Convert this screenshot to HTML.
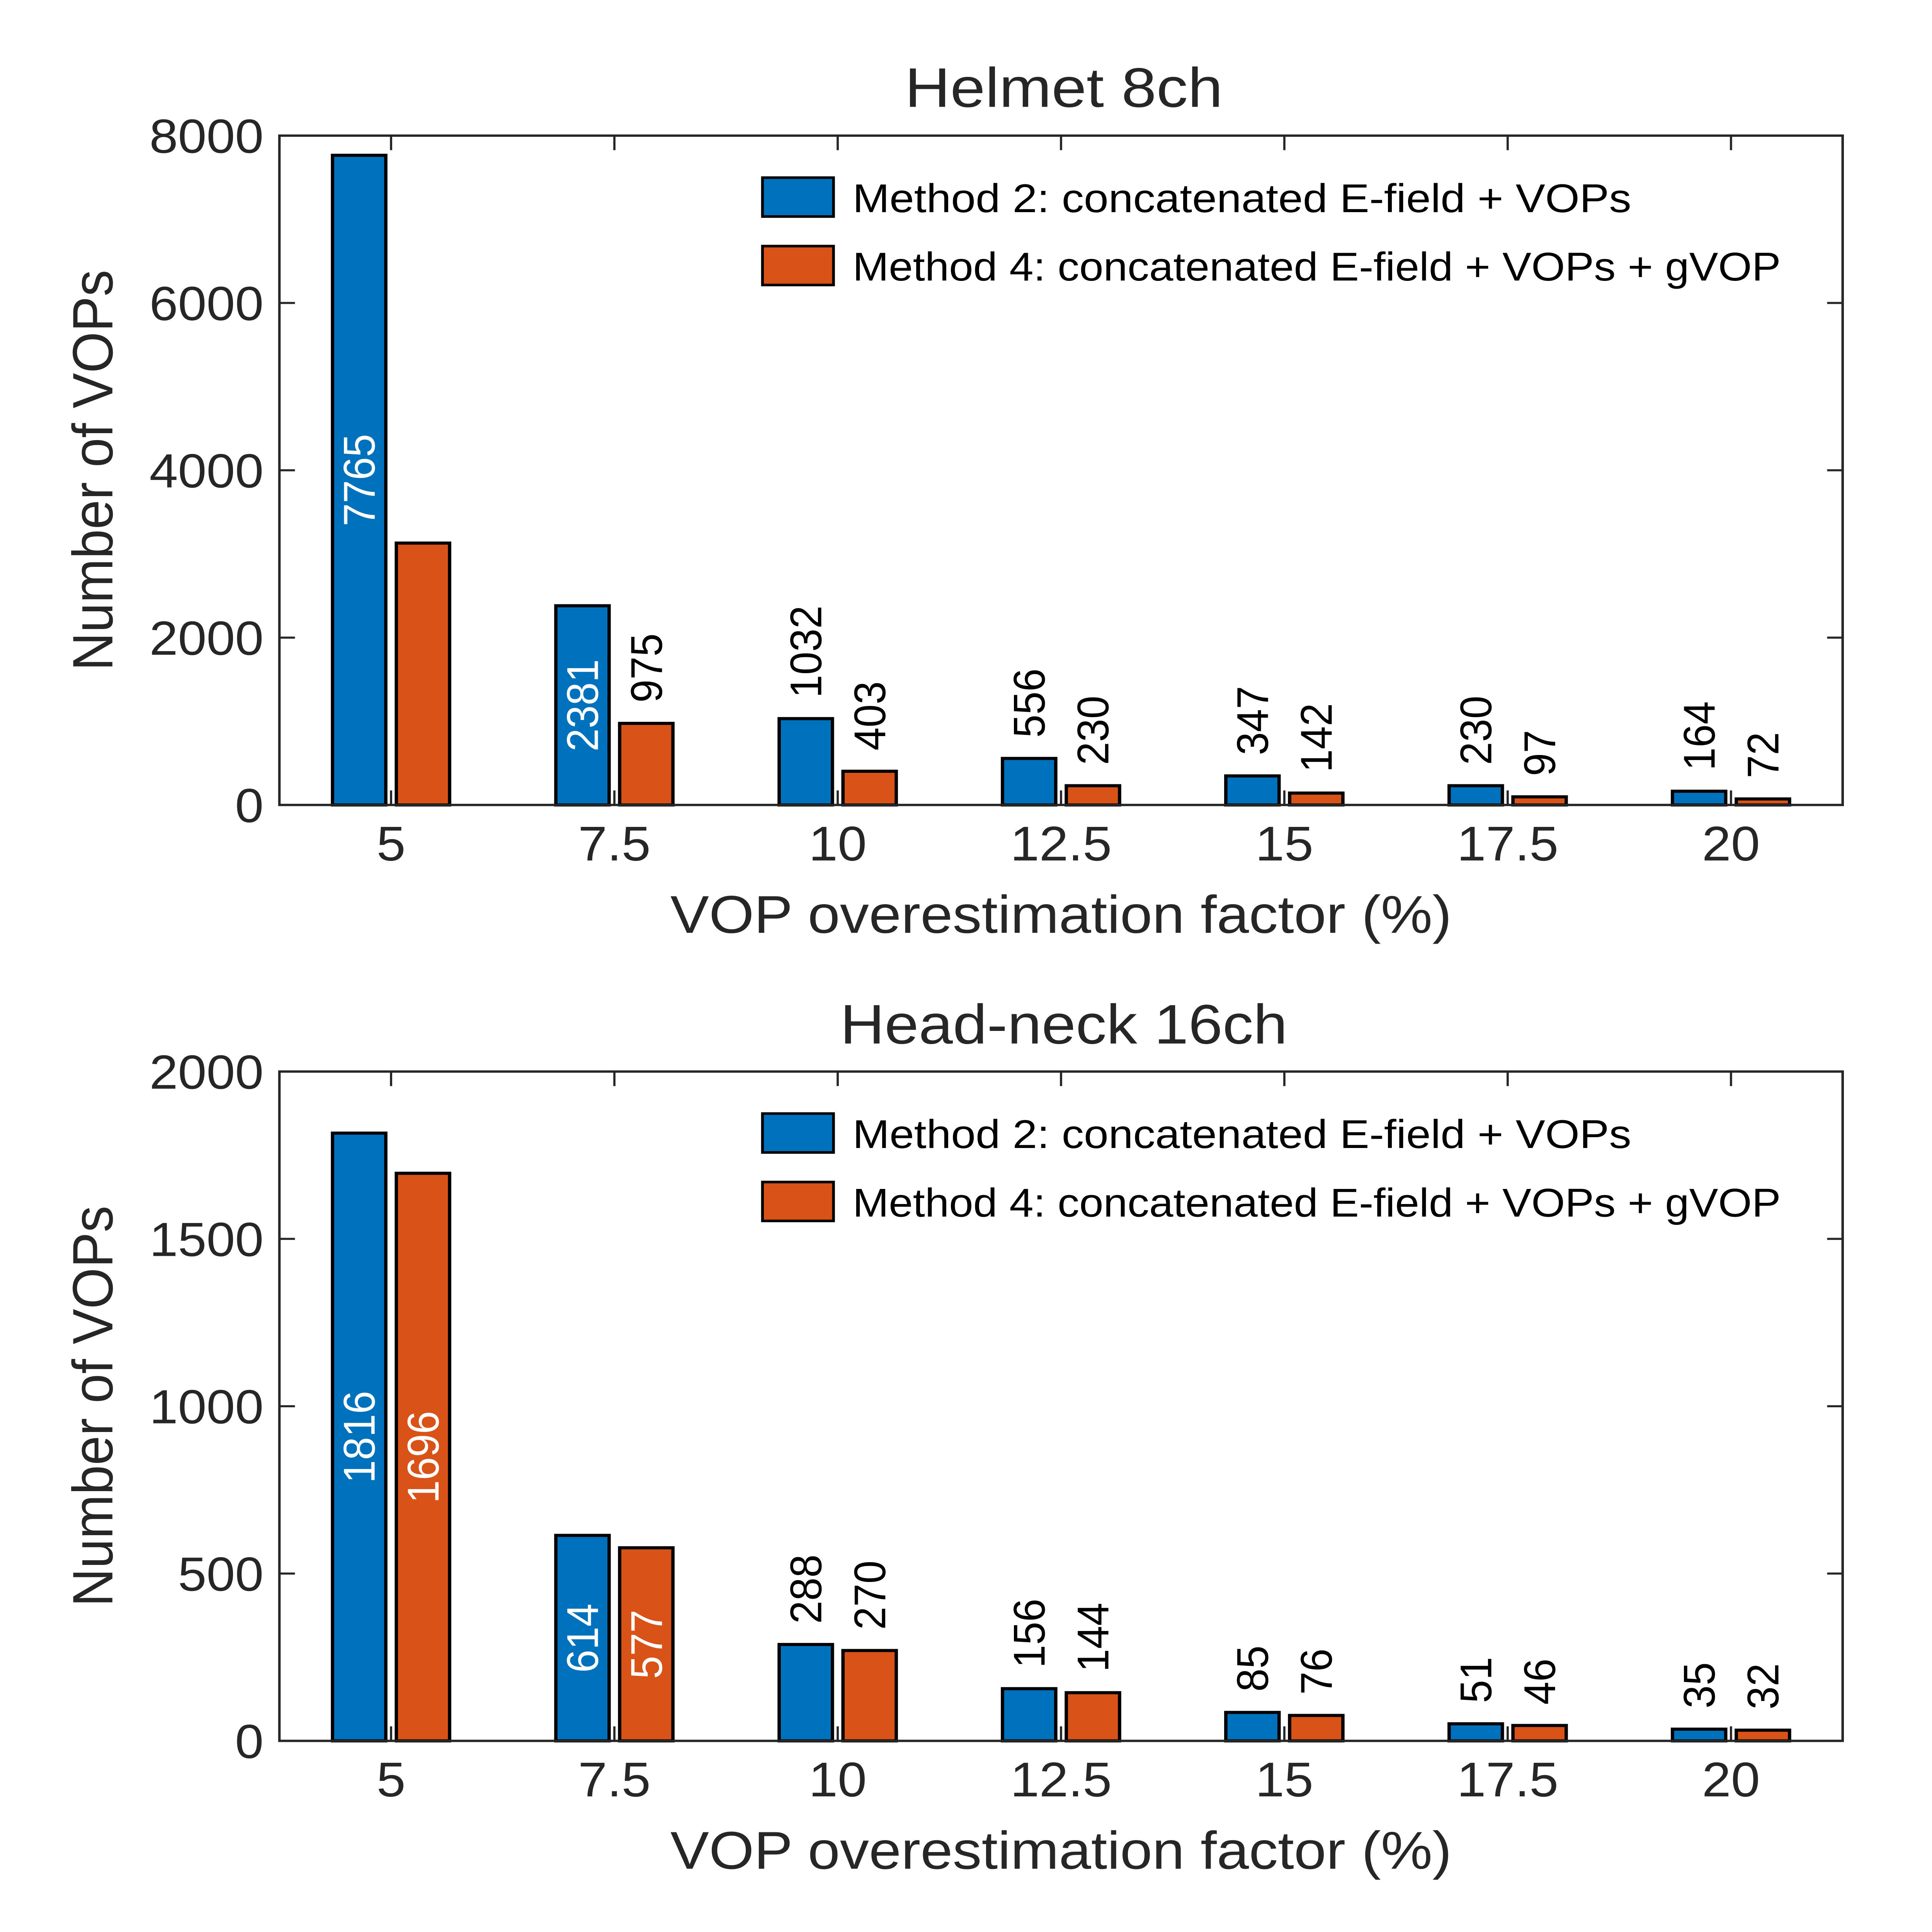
<!DOCTYPE html>
<html><head><meta charset="utf-8"><meta name="viewport" content="width=6963, initial-scale=1"><style>
html,body{margin:0;padding:0;background:#fff;width:100%;height:100%;overflow:hidden;}
svg{display:block;width:100vw;height:100vh;}
text{font-family:"Liberation Sans",sans-serif;fill:#262626;}
</style></head><body>
<svg id="fig" viewBox="0 0 6963 7450" preserveAspectRatio="none" xmlns="http://www.w3.org/2000/svg"></svg>
<script>
// ---- data ----
const categories = ["5","7.5","10","12.5","15","17.5","20"];
const helmetMethod2 = [7765,2381,1032,556,347,230,164];
const helmetMethod4 = [3130,975,403,230,142,97,72];
const helmetLabelMode2 = ["in","in","out","out","out","out","out"];
const helmetLabelMode4 = ["none","out","out","out","out","out","out"];
const helmetTicks = [0,2000,4000,6000,8000];
const neckMethod2 = [1816,614,288,156,85,51,35];
const neckMethod4 = [1696,577,270,144,76,46,32];
const neckLabelMode2 = ["in","in","out","out","out","out","out"];
const neckLabelMode4 = ["in","in","out","out","out","out","out"];
const neckTicks = [0,500,1000,1500,2000];
const legendLabels = ["Method 2: concatenated E-field + VOPs","Method 4: concatenated E-field + VOPs + gVOP"];

const NS="http://www.w3.org/2000/svg";
const svg=document.getElementById('fig');
const BLUE="#0072BD", ORANGE="#D95319", AX="#262626";
function mk(tag,attrs,parent){const e=document.createElementNS(NS,tag);for(const k in attrs)e.setAttribute(k,attrs[k]);(parent||svg).appendChild(e);return e;}

function drawPanel(cfg){
  const g=mk('g',{});
  
  
  const L=1007,R=6641,T=cfg.top,B=cfg.bottom;
  const ymax=cfg.ticks[cfg.ticks.length-1];
  const n=categories.length;
  const xs=i=>L+(R-L)*(i+0.5)/n;
  const ys=v=>B-(B-T)*v/ymax;
  const bw=192, off=115;
  [[cfg.s2,BLUE,cfg.m2,-off,'method2'],[cfg.s4,ORANGE,cfg.m4,off,'method4']].forEach(([arr,col,modes,o,sn])=>{
    arr.forEach((v,i)=>{
      const cx=xs(i)+o, y=ys(v);
      const r=mk('rect',{x:cx-bw/2,y:y,width:bw,height:B-y,fill:col,stroke:'#000','stroke-width':12},g);
      
      
      if(modes[i]==='none')return;
      let t;
      if(modes[i]==='in'){
        const cy=(y+B)/2;
        t=mk('text',{x:0,y:0,'font-size':160,'text-anchor':'middle',transform:`translate(${cx+56},${cy}) rotate(-90)`,style:'fill:#fff'},g);
      }else{
        t=mk('text',{x:0,y:0,'font-size':160,'text-anchor':'start',transform:`translate(${cx+56},${y-80}) rotate(-90)`,style:'fill:#000'},g);
      }
      t.textContent=String(v);
      
      
    });
  });
  const box=mk('rect',{x:L,y:T,width:R-L,height:B-T,fill:'none',stroke:AX,'stroke-width':9},g);
  
  
  categories.forEach((c,i)=>{
    const x=xs(i);
    mk('line',{x1:x,y1:B,x2:x,y2:B-56,stroke:AX,'stroke-width':8},g);
    mk('line',{x1:x,y1:T,x2:x,y2:T+56,stroke:AX,'stroke-width':8},g);
    const t=mk('text',{x:x,y:B+214,'font-size':188,'text-anchor':'middle'},g);
    t.textContent=c;
    
    
  });
  cfg.ticks.forEach(v=>{
    const y=ys(v);
    mk('line',{x1:L,y1:y,x2:L+56,y2:y,stroke:AX,'stroke-width':8},g);
    mk('line',{x1:R,y1:y,x2:R-56,y2:y,stroke:AX,'stroke-width':8},g);
    const t=mk('text',{x:950,y:y+66,'font-size':185,'text-anchor':'end'},g);
    t.textContent=String(v);
    
    
  });
  const ti=mk('text',{x:3834,y:cfg.titleY,'font-size':215,'text-anchor':'middle',textLength:cfg.titleLen,lengthAdjust:'spacingAndGlyphs'},g);
  ti.textContent=cfg.title;
  
  
  const xl=mk('text',{x:3824,y:B+493,'font-size':205,'text-anchor':'middle',textLength:2816,lengthAdjust:'spacingAndGlyphs'},g);
  xl.textContent="VOP overestimation factor (%)";
  
  
  const yl=mk('text',{x:0,y:0,'font-size':205,'text-anchor':'middle',textLength:1546,lengthAdjust:'spacingAndGlyphs',transform:`translate(405,${(T+B)/2}) rotate(-90)`},g);
  yl.textContent="Number of VOPs";
  
  
  const lg=mk('g',{},g);
  
  
  [[BLUE,0,2806],[ORANGE,1,3345]].forEach(([col,k,len])=>{
    const y0=T+162+k*264;
    const e=mk('g',{},lg);
    
    
    mk('rect',{x:2748,y:y0,width:256,height:150,fill:col,stroke:'#000','stroke-width':10},e);
    const t=mk('text',{x:3073,y:y0+133,'font-size':155,textLength:len,lengthAdjust:'spacingAndGlyphs',style:'fill:#000'},e);
    t.textContent=legendLabels[k];
  });
}

drawPanel({name:'helmet-8ch-chart',top:523,bottom:3104,ticks:helmetTicks,s2:helmetMethod2,s4:helmetMethod4,m2:helmetLabelMode2,m4:helmetLabelMode4,title:'Helmet 8ch',titleY:412,titleLen:1146});
drawPanel({name:'head-neck-16ch-chart',top:4132,bottom:6713,ticks:neckTicks,s2:neckMethod2,s4:neckMethod4,m2:neckLabelMode2,m4:neckLabelMode4,title:'Head-neck 16ch',titleY:4024,titleLen:1612});
</script>
</body></html>
